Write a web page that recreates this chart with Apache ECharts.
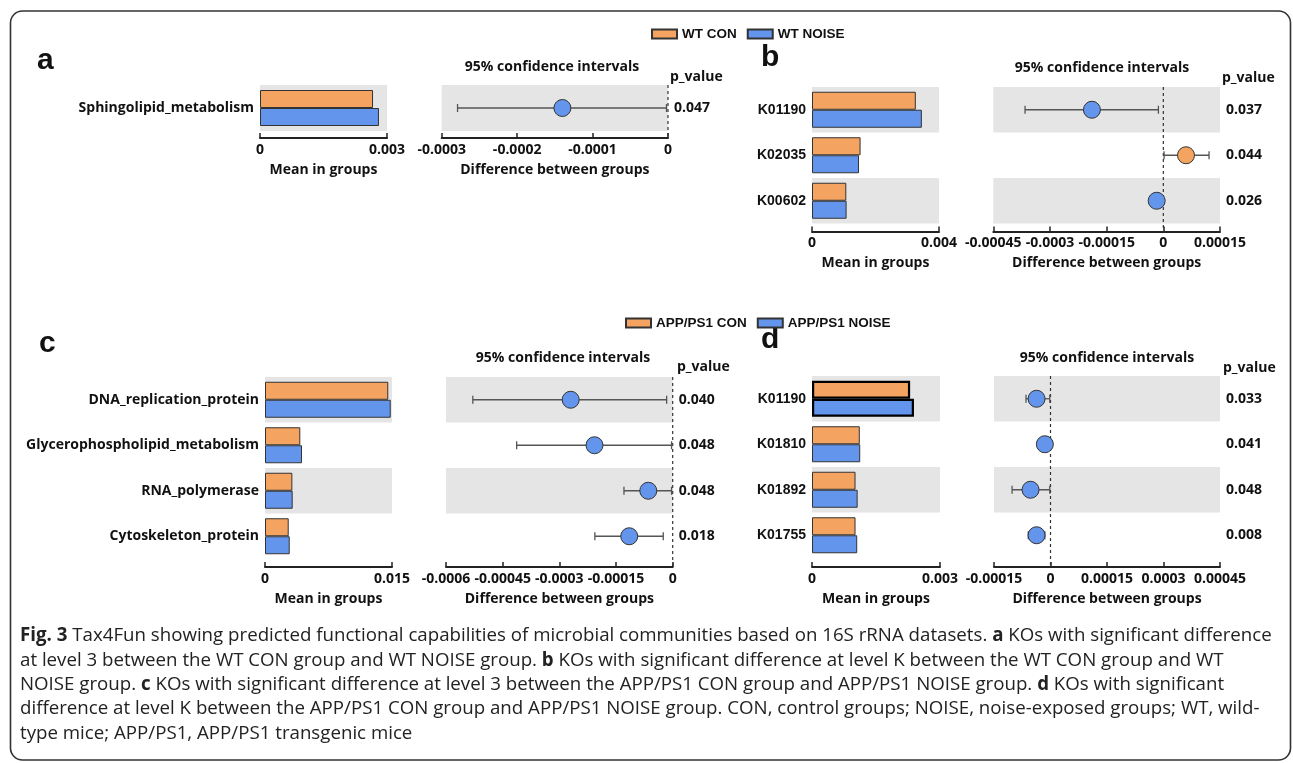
<!DOCTYPE html>
<html>
<head>
<meta charset="utf-8">
<script src="https://cdn.jsdelivr.net/npm/echarts@6/dist/echarts.min.js"></script>
<style>
html,body{margin:0;padding:0;background:#fff;}
#chart{width:1293px;height:763px;}
</style>
</head>
<body>
<div id="chart"></div>
<script>
// ---------------- DATA ----------------
// panel a (WT, level 3)
const aCats  = ['Sphingolipid_metabolism'];
const aCon   = [0.00267];
const aNoise = [0.00281];
const aDiff  = [-0.000140];
const aLow   = [-0.000279];
const aHigh  = [-0.000002];
const aP     = ['0.047'];
const aMeanAxis = [0, 0.003, 0.003];          // min, max, interval
const aDiffAxis = [-0.0003, 0, 0.0001];

// panel b (WT, level K)
const bCats  = ['K01190', 'K02035', 'K00602'];
const bCon   = [0.00327, 0.00153, 0.00108];
const bNoise = [0.00346, 0.00148, 0.00109];
const bDiff  = [-0.000189, 0.000060, -0.0000176];
const bLow   = [-0.000366, 0.000002, -0.000027];
const bHigh  = [-0.000013, 0.000121, -0.000009];
const bP     = ['0.037', '0.044', '0.026'];
const bMeanAxis = [0, 0.004, 0.004];
const bDiffAxis = [-0.00045, 0.00015, 0.00015];

// panel c (APP/PS1, level 3)
const cCats  = ['DNA_replication_protein', 'Glycerophospholipid_metabolism', 'RNA_polymerase', 'Cytoskeleton_protein'];
const cCon   = [0.01456, 0.00417, 0.00323, 0.00280];
const cNoise = [0.01485, 0.00437, 0.00327, 0.00292];
const cDiff  = [-0.000270, -0.000207, -0.0000646, -0.000115];
const cLow   = [-0.000529, -0.000413, -0.000129, -0.000206];
const cHigh  = [-0.000016, -0.000003, -0.000003, -0.000025];
const cP     = ['0.040', '0.048', '0.048', '0.018'];
const cMeanAxis = [0, 0.015, 0.015];
const cDiffAxis = [-0.0006, 0, 0.00015];

// panel d (APP/PS1, level K)
const dCats  = ['K01190', 'K01810', 'K01892', 'K01755'];
const dCon   = [0.00230, 0.00112, 0.00102, 0.00102];
const dNoise = [0.00239, 0.00113, 0.00107, 0.00106];
const dDiff  = [-0.000037, -0.000015, -0.000053, -0.000037];
const dLow   = [-0.000065, -0.000033, -0.000102, -0.000059];
const dHigh  = [-0.000002, 0.000003, -0.000002, -0.000015];
const dP     = ['0.033', '0.041', '0.048', '0.008'];
const dMeanAxis = [0, 0.003, 0.003];
const dDiffAxis = [-0.00015, 0.00045, 0.00015];

const wtGroups  = ['WT CON', 'WT NOISE'];
const appGroups = ['APP/PS1 CON', 'APP/PS1 NOISE'];

// ---------------- STYLE / LAYOUT ----------------
const ORANGE = '#F4A460';
const BLUE = '#6495ED';
const GREY = '#e5e5e5';
const INK = '#111';
const FONT = '"Open Sans", "Noto Sans", sans-serif';
const ARIAL = '"Liberation Sans", Arial, sans-serif';

const panels = [
  { cats: aCats, con: aCon, noise: aNoise, diff: aDiff, low: aLow, high: aHigh, p: aP,
    meanAx: aMeanAxis, diffAx: aDiffAxis, groups: wtGroups, catFont: FONT,
    bar: {left: 260, top: 85, width: 127, height: 46}, ci: {left: 441.7, top: 85, width: 226.3, height: 46}, off: 7 },
  { cats: bCats, con: bCon, noise: bNoise, diff: bDiff, low: bLow, high: bHigh, p: bP,
    meanAx: bMeanAxis, diffAx: bDiffAxis, groups: wtGroups, catFont: ARIAL,
    bar: {left: 812, top: 87, width: 127, height: 136.5}, ci: {left: 993.3, top: 87, width: 226.7, height: 136.5}, off: 8 },
  { cats: cCats, con: cCon, noise: cNoise, diff: cDiff, low: cLow, high: cHigh, p: cP,
    meanAx: cMeanAxis, diffAx: cDiffAxis, groups: appGroups, catFont: FONT,
    bar: {left: 265, top: 377, width: 127, height: 182}, ci: {left: 446, top: 377, width: 226.7, height: 182}, off: 8 },
  { cats: dCats, con: dCon, noise: dNoise, diff: dDiff, low: dLow, high: dHigh, p: dP,
    meanAx: dMeanAxis, diffAx: dDiffAxis, groups: appGroups, catFont: ARIAL, boldFirst: true,
    bar: {left: 812, top: 376, width: 128, height: 182}, ci: {left: 994, top: 376, width: 226, height: 182}, off: 9 }
];

const grids = [], xAxes = [], yAxes = [], series = [];

function valueAxis(gi, ax, name, off) {
  return {
    type: 'value', gridIndex: gi, min: ax[0], max: ax[1], interval: ax[2], offset: off,
    name: name, nameLocation: 'middle', nameGap: 25,
    nameTextStyle: {fontFamily: FONT, fontWeight: 'bold', fontSize: 14, color: INK},
    axisLine: {show: true, onZero: false, lineStyle: {color: '#222', width: 2}},
    axisTick: {show: true, inside: true, length: 5, lineStyle: {color: '#222', width: 1.5}},
    axisLabel: {margin: 5, fontFamily: FONT, fontWeight: 'bold', fontSize: 14, color: INK, showMinLabel: true, showMaxLabel: true},
    splitLine: {show: false}
  };
}
function catAxis(gi, data, pos, showLabel, font) {
  return {
    type: 'category', gridIndex: gi, data: data, inverse: true, position: pos,
    axisLine: {show: false}, axisTick: {show: false},
    axisLabel: {show: showLabel, margin: 6, fontFamily: font, fontWeight: 'bold', fontSize: 14, color: INK},
    splitLine: {show: false},
    splitArea: {show: true, interval: 0, areaStyle: {color: [GREY, 'rgba(255,255,255,0)']}}
  };
}

function errRender(params, api) {
  const idx = api.value(0), lo = api.value(1), hi = api.value(2);
  const a = api.coord([lo, idx]), b = api.coord([hi, idx]);
  const h = 4;
  const st = {stroke: '#555', lineWidth: 1.3};
  return {type: 'group', children: [
    {type: 'line', shape: {x1: a[0], y1: a[1], x2: b[0], y2: b[1]}, style: st},
    {type: 'line', shape: {x1: a[0], y1: a[1] - h, x2: a[0], y2: a[1] + h}, style: st},
    {type: 'line', shape: {x1: b[0], y1: b[1] - h, x2: b[0], y2: b[1] + h}, style: st}
  ]};
}
function zeroRender(off) {
  return function (params, api) {
    const cs = params.coordSys;
    const x = api.coord([api.value(0), 0])[0];
    return {type: 'line', shape: {x1: x, y1: cs.y, x2: x, y2: cs.y + cs.height + off},
      style: {stroke: '#333', lineWidth: 1.2, lineDash: [3, 3]}};
  };
}

panels.forEach((P, k) => {
  const gb = 2 * k, gc = 2 * k + 1;
  grids.push(Object.assign({outerBoundsMode: 'none', containLabel: false}, P.bar));
  grids.push(Object.assign({outerBoundsMode: 'none', containLabel: false}, P.ci));
  xAxes.push(valueAxis(gb, P.meanAx, 'Mean in groups', P.off));
  xAxes.push(valueAxis(gc, P.diffAx, 'Difference between groups', P.off));
  yAxes.push(catAxis(gb, P.cats, 'left', true, P.catFont));
  yAxes.push(catAxis(gc, P.p, 'right', true, FONT));

  const mk = (arr) => arr.map((v, i) => (P.boldFirst && i === 0)
      ? {value: v, itemStyle: {borderWidth: 2.2, borderColor: '#000'}} : v);
  series.push({type: 'bar', name: P.groups[0], xAxisIndex: gb, yAxisIndex: gb, data: mk(P.con),
    barWidth: 18, barGap: '0%', itemStyle: {color: ORANGE, borderColor: '#333', borderWidth: 1}});
  series.push({type: 'bar', name: P.groups[1], xAxisIndex: gb, yAxisIndex: gb, data: mk(P.noise),
    barWidth: 18, barGap: '0%', itemStyle: {color: BLUE, borderColor: '#333', borderWidth: 1}});

  series.push({type: 'custom', xAxisIndex: gc, yAxisIndex: gc, renderItem: zeroRender(P.off),
    data: [[0, 0]], encode: {x: 0, y: 1}, silent: true, z: 1});
  series.push({type: 'custom', xAxisIndex: gc, yAxisIndex: gc, renderItem: errRender,
    data: P.low.map((lo, i) => [i, lo, P.high[i]]), encode: {x: [1, 2], y: 0}, silent: true, z: 2});
  series.push({type: 'scatter', xAxisIndex: gc, yAxisIndex: gc, symbolSize: 17, z: 3,
    data: P.diff.map((v, i) => [v, i]),
    itemStyle: {color: (p) => p.value[0] > 0 ? ORANGE : BLUE, borderColor: '#333', borderWidth: 1, opacity: 1}});
});

function txt(x, y, s, opt) {
  return {type: 'text', x: x, y: y, silent: true, style: Object.assign({
    text: s, fill: INK, font: 'bold 14px ' + FONT, textAlign: 'left', textVerticalAlign: 'middle'}, opt || {})};
}

const graphic = [
  {type: 'rect', shape: {x: 10.5, y: 11, width: 1280, height: 749, r: 12},
   style: {fill: 'none', stroke: '#333', lineWidth: 1.6}, silent: true},
  txt(37, 61, 'a', {font: 'bold 30px ' + ARIAL}),
  txt(761, 58, 'b', {font: 'bold 30px ' + ARIAL}),
  txt(39, 344, 'c', {font: 'bold 30px ' + ARIAL}),
  txt(761, 340, 'd', {font: 'bold 30px ' + ARIAL}),
  txt(552, 67, '95% confidence intervals', {textAlign: 'center'}),
  txt(1102, 68, '95% confidence intervals', {textAlign: 'center'}),
  txt(563, 358, '95% confidence intervals', {textAlign: 'center'}),
  txt(1107, 358, '95% confidence intervals', {textAlign: 'center'}),
  txt(670, 77, 'p_value'),
  txt(1222, 78, 'p_value'),
  txt(677, 367, 'p_value'),
  txt(1223, 368, 'p_value')
];

const capLines = [
  '{b|Fig. 3} Tax4Fun showing predicted functional capabilities of microbial communities based on 16S rRNA datasets. {b|a} KOs with significant difference',
  'at level 3 between the WT CON group and WT NOISE group. {b|b} KOs with significant difference at level K between the WT CON group and WT',
  'NOISE group. {b|c} KOs with significant difference at level 3 between the APP/PS1 CON group and APP/PS1 NOISE group. {b|d} KOs with significant',
  'difference at level K between the APP/PS1 CON group and APP/PS1 NOISE group. CON, control groups; NOISE, noise-exposed groups; WT, wild-',
  'type mice; APP/PS1, APP/PS1 transgenic mice'
];
const CAP_SIZE = 18.7;
capLines.forEach((line, i) => {
  graphic.push({type: 'text', x: 20, y: 636 + i * 24.3, silent: true, style: {
    text: line, fill: '#222', fontFamily: FONT, fontSize: CAP_SIZE, textVerticalAlign: 'middle',
    rich: {b: {fontFamily: FONT, fontSize: CAP_SIZE, fontWeight: 'bold', fill: '#222'}}}});
});

const legendCommon = {
  orient: 'horizontal', padding: 0, itemWidth: 25, itemHeight: 9, itemGap: 10, icon: 'rect',
  textStyle: {fontFamily: ARIAL, fontWeight: 'bold', fontSize: 13.5, color: INK}, selectedMode: false
};

const option = {
  animation: false,
  backgroundColor: '#fff',
  legend: [
    Object.assign({data: wtGroups, left: 651, top: 27}, legendCommon),
    Object.assign({data: appGroups, left: 625, top: 316}, legendCommon)
  ],
  grid: grids, xAxis: xAxes, yAxis: yAxes, series: series, graphic: graphic
};

const chart = echarts.init(document.getElementById('chart'), null, {renderer: 'canvas'});
chart.setOption(option);
</script>
</body>
</html>
